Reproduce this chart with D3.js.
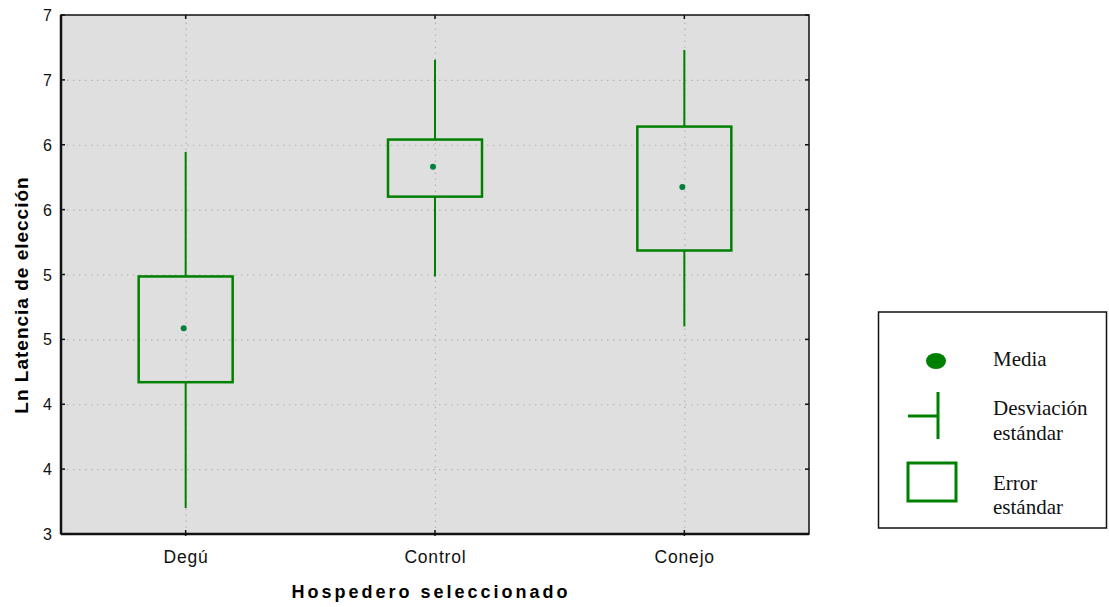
<!DOCTYPE html>
<html>
<head>
<meta charset="utf-8">
<script src="https://cdn.jsdelivr.net/npm/d3@7"></script>
<style>
  body { margin: 0; background: #fff; }
  svg { display: block; }
  .grid line { stroke: #b4b4b4; stroke-dasharray: 1.5 4.5; stroke-width: 1.2; }
  .grid path { display: none; }
  .lbl { font-family: "Liberation Sans", Arial, sans-serif; fill: #111; }
  .leg { font-family: "Liberation Serif", "Times New Roman", serif; font-size: 21px; fill: #111; }
</style>
</head>
<body>
<div id="chart"></div>
<script>
// Categorías y estadísticos
const categories = ["Degú", "Control", "Conejo"];
const means   = [4.585, 5.83, 5.675];
const seLow   = [4.17, 5.60, 5.185];
const seHigh  = [4.985, 6.04, 6.14];
const sdLow   = [3.20, 4.985, 4.60];
const sdHigh  = [5.945, 6.655, 6.73];
const yTicks  = [3, 3.5, 4, 4.5, 5, 5.5, 6, 6.5, 7];
const yTickLabels = ["3", "4", "4", "5", "5", "6", "6", "7", "7"];

const green = "#008000";
const W = 1109, H = 607;
const margin = {top: 15, left: 61, right: 300, bottom: 73};
const width = W - margin.left - margin.right,   // 748
      height = H - margin.top - margin.bottom;  // 519

const svg = d3.select("#chart").append("svg").attr("width", W).attr("height", H);
const g = svg.append("g").attr("transform", `translate(${margin.left},${margin.top})`);

const x = d3.scalePoint().domain(categories).range([0, width]).padding(0.5);
const y = d3.scaleLinear().domain([3, 7]).range([height, 0]);

// Fondo
g.append("rect").attr("width", width).attr("height", height).attr("fill", "#dfdfdf");

// Rejilla
g.append("g").attr("class", "grid")
  .call(d3.axisLeft(y).tickValues(yTicks.slice(1, -1)).tickSize(-width).tickFormat(""));
g.append("g").attr("class", "grid").attr("transform", `translate(0,${height})`)
  .call(d3.axisBottom(x).tickSize(-height).tickFormat(""));

// Desviación estándar y error estándar
const data = categories.map((c, i) => ({c, m: means[i], lo: seLow[i], hi: seHigh[i], sl: sdLow[i], sh: sdHigh[i]}));
const boxW = 94;
data.forEach(d => {
  g.append("line").attr("x1", x(d.c)).attr("x2", x(d.c))
    .attr("y1", y(d.sh)).attr("y2", y(d.hi)).attr("stroke", green).attr("stroke-width", 2);
  g.append("line").attr("x1", x(d.c)).attr("x2", x(d.c))
    .attr("y1", y(d.lo)).attr("y2", y(d.sl)).attr("stroke", green).attr("stroke-width", 2);
  g.append("rect").attr("x", x(d.c) - boxW / 2).attr("y", y(d.hi))
    .attr("width", boxW).attr("height", y(d.lo) - y(d.hi))
    .attr("fill", "none").attr("stroke", green).attr("stroke-width", 2.5);
  g.append("circle").attr("cx", x(d.c) - 2).attr("cy", y(d.m)).attr("r", 3).attr("fill", "#00803a");
});

// Marco y marcas
g.append("rect").attr("width", width).attr("height", height)
  .attr("fill", "none").attr("stroke", "#111").attr("stroke-width", 1.5);
g.append("line").attr("x1", 0).attr("x2", 0).attr("y1", 0).attr("y2", height).attr("stroke", "#111").attr("stroke-width", 2.5);
g.append("line").attr("x1", 0).attr("x2", width).attr("y1", height).attr("y2", height).attr("stroke", "#111").attr("stroke-width", 2.5);
categories.forEach(c => {
  g.append("line").attr("x1", x(c)).attr("x2", x(c)).attr("y1", 0).attr("y2", 4).attr("stroke", "#111").attr("stroke-width", 1.5);
  g.append("line").attr("x1", x(c)).attr("x2", x(c)).attr("y1", height + 2).attr("y2", height - 4).attr("stroke", "#111").attr("stroke-width", 1.5);
});
yTicks.forEach(t => {
  g.append("line").attr("x1", width).attr("x2", width - 4).attr("y1", y(t)).attr("y2", y(t)).attr("stroke", "#111").attr("stroke-width", 1.5);
  g.append("line").attr("x1", 0).attr("x2", 4).attr("y1", y(t)).attr("y2", y(t)).attr("stroke", "#111").attr("stroke-width", 1.5);
});

// Etiquetas de ejes
yTicks.forEach((t, i) => {
  g.append("text").attr("class", "lbl").style("font-size", "16px")
    .attr("x", -9).attr("y", y(t) + 6)
    .attr("text-anchor", "end").text(yTickLabels[i]);
});
categories.forEach(c => {
  g.append("text").attr("class", "lbl").style("font-size", "17.5px").style("letter-spacing", "0.8px")
    .attr("x", x(c) + 0.4).attr("y", height + 29)
    .attr("text-anchor", "middle").text(c);
});

svg.append("text").attr("x", 431).attr("y", 598).attr("text-anchor", "middle")
  .style("font-family", "'Liberation Sans', Arial, sans-serif").style("font-size", "18px")
  .style("font-weight", "bold").style("letter-spacing", "3px").text("Hospedero seleccionado");
svg.append("text").attr("transform", "translate(28,295) rotate(-90)").attr("text-anchor", "middle")
  .style("font-family", "'Liberation Sans', Arial, sans-serif").style("font-size", "19px")
  .style("font-weight", "bold").style("letter-spacing", "1px").text("Ln Latencia de elección");

// Leyenda
const lg = svg.append("g");
lg.append("rect").attr("x", 878.5).attr("y", 312).attr("width", 228).attr("height", 216)
  .attr("fill", "#fff").attr("stroke", "#111").attr("stroke-width", 1.5);
lg.append("ellipse").attr("cx", 936).attr("cy", 361).attr("rx", 10).attr("ry", 8).attr("fill", green);
lg.append("line").attr("x1", 938).attr("x2", 938).attr("y1", 392).attr("y2", 439).attr("stroke", green).attr("stroke-width", 3);
lg.append("line").attr("x1", 908).attr("x2", 938).attr("y1", 416).attr("y2", 416).attr("stroke", green).attr("stroke-width", 3);
lg.append("rect").attr("x", 908).attr("y", 463).attr("width", 48).attr("height", 38)
  .attr("fill", "none").attr("stroke", green).attr("stroke-width", 3);
[["Media", 366], ["Desviación", 415], ["estándar", 440], ["Error", 490], ["estándar", 514]].forEach(([t, yy]) => {
  lg.append("text").attr("class", "leg").attr("x", 993).attr("y", yy).text(t);
});
</script>
</body>
</html>
